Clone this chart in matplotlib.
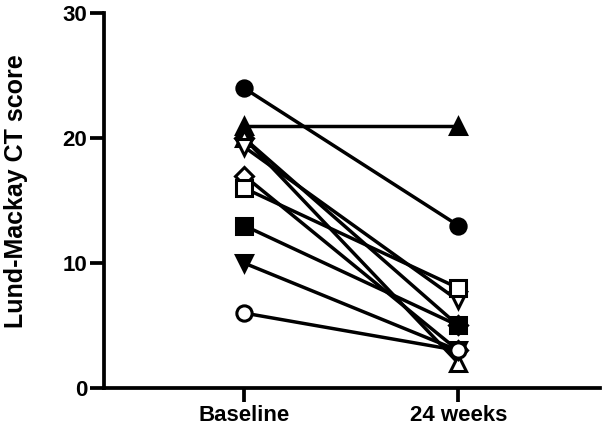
import matplotlib
matplotlib.use("Agg")
import matplotlib.pyplot as plt

timepoints = ["Baseline", "24 weeks"]

# one entry per subject: baseline, 24 weeks
baseline = [24, 21, 20, 20, 19.3, 17, 16, 13, 10, 6]
week24 = [13, 21, 5, 2, 7, 3, 8, 5, 3, 3]
markers = ["o", "^", "D", "^", "v", "D", "s", "s", "v", "o"]
filled = [True, True, True, False, False, False, False, True, True, False]

plt.rcParams["font.family"] = ["Liberation Sans", "DejaVu Sans"]
plt.rcParams["font.weight"] = "bold"

fig = plt.figure(figsize=(6.07, 4.30), dpi=100)
ax = fig.add_axes([0.171, 0.0977, 0.817, 0.872])

x = [0, 1]
for b, w, m, f in zip(baseline, week24, markers, filled):
    ax.plot(
        x, [b, w],
        color="black", lw=2.5,
        marker=m, markersize=11 if m != "D" else 9,
        markerfacecolor="black" if f else "white",
        markeredgecolor="black", markeredgewidth=2.2,
        clip_on=False,
    )

ax.set_xlim(-0.654, 1.66)
ax.set_ylim(0, 30)
ax.set_xticks(x)
ax.set_xticklabels(timepoints, fontsize=16, fontweight="bold")
ax.set_yticks([0, 10, 20, 30])
ax.set_yticklabels(["0", "10", "20", "30"], fontsize=16, fontweight="bold")

# y label placed in figure coords so it sits at the far left like the reference
fig.text(0.027, 0.555, "Lund-Mackay CT score", rotation=90,
         ha="center", va="center", fontsize=18, fontweight="bold")

for side in ["top", "right"]:
    ax.spines[side].set_visible(False)
for side in ["left", "bottom"]:
    ax.spines[side].set_linewidth(2.7)
ax.tick_params(width=2.7, length=10, direction="out", pad=2)

plt.savefig("out.png", dpi=100)
